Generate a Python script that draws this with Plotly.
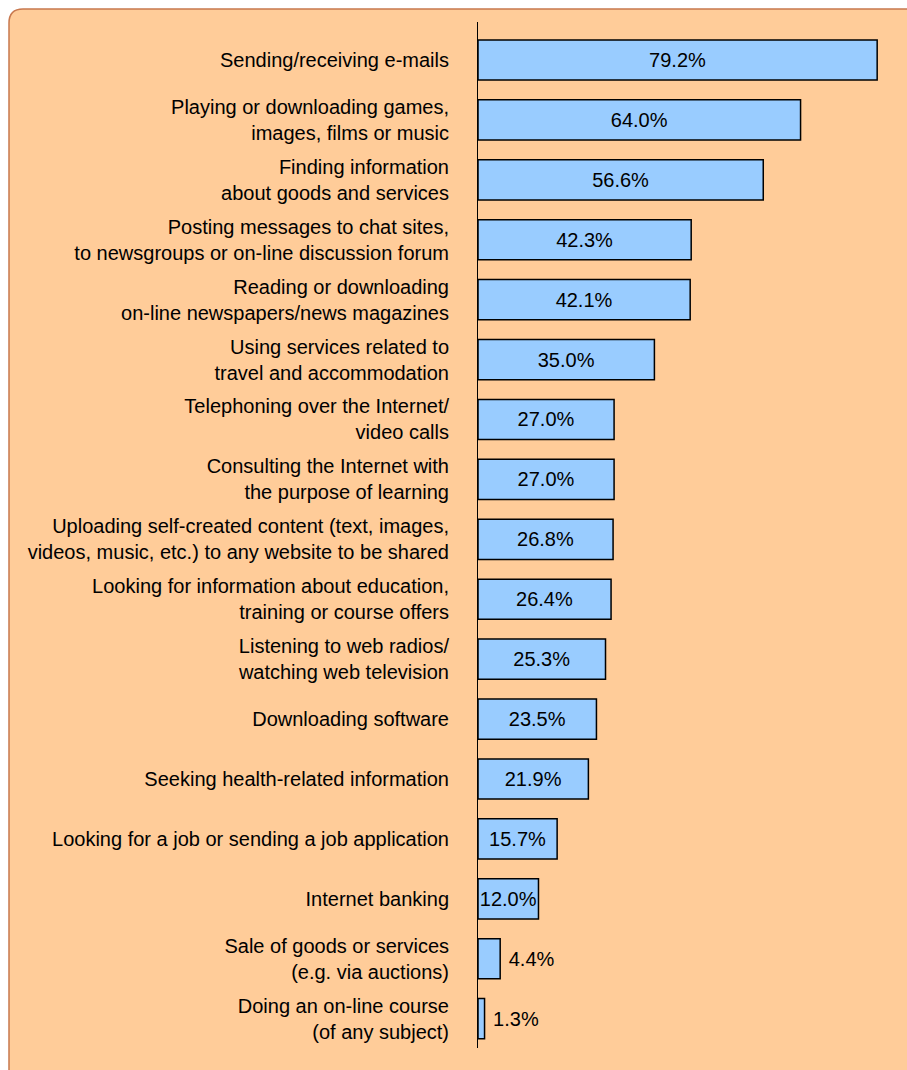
import plotly.graph_objects as go

# Internet activities, share of users (%)
activities = [
    "Sending/receiving e-mails",
    "Playing or downloading games,<br>images, films or music",
    "Finding information<br>about goods and services",
    "Posting messages to chat sites,<br>to newsgroups or on-line discussion forum",
    "Reading or downloading<br>on-line newspapers/news magazines",
    "Using services related to<br>travel and accommodation",
    "Telephoning over the Internet/<br>video calls",
    "Consulting the Internet with<br>the purpose of learning",
    "Uploading self-created content (text, images,<br>videos, music, etc.) to any website to be shared",
    "Looking for information about education,<br>training or course offers",
    "Listening to web radios/<br>watching web television",
    "Downloading software",
    "Seeking health-related information",
    "Looking for a job or sending a job application",
    "Internet banking",
    "Sale of goods or services<br>(e.g. via auctions)",
    "Doing an on-line course<br>(of any subject)",
]
shares = [79.2, 64.0, 56.6, 42.3, 42.1, 35.0, 27.0, 27.0, 26.8, 26.4,
          25.3, 23.5, 21.9, 15.7, 12.0, 4.4, 1.3]

positions = list(range(len(activities)))
text_pos = ["inside" if v >= 10 else "outside" for v in shares]
# small bars carry their label just to the right, with a little extra gap
labels = [f"{v:.1f}%" if v >= 10 else f" {v:.1f}%" for v in shares]

W, H = 907, 1070
ML, MR, MT, MB = 478, 0, 22, 22
PW, PH = W - ML - MR, H - MT - MB

FONT = "Liberation Sans, Arial, sans-serif"
FS = 20

fig = go.Figure(
    go.Bar(
        x=shares,
        y=positions,
        orientation="h",
        width=0.67,
        marker=dict(color="#99CCFF", line=dict(color="#000000", width=1.5)),
        text=labels,
        textposition=text_pos,
        insidetextanchor="middle",
        constraintext="none",
        cliponaxis=False,
        textfont=dict(family=FONT, size=FS, color="#000000"),
        hoverinfo="skip",
    )
)


def px_to_paper(x, y):
    return (x - ML) / PW, (H - MB - y) / PH


# Rounded peach panel behind the chart
left, top, right, bottom, r = 9, 9, 960, 1120, 14
x0, y0 = px_to_paper(left, bottom)
x1, y1 = px_to_paper(left, top + r)
cx, cy = px_to_paper(left, top)
x2, y2 = px_to_paper(left + r, top)
x3, y3 = px_to_paper(right, top)
x4, y4 = px_to_paper(right, bottom)
path = (f"M {x0},{y0} L {x1},{y1} Q {cx},{cy} {x2},{y2} "
        f"L {x3},{y3} L {x4},{y4} Z")

fig.update_layout(
    width=W,
    height=H,
    margin=dict(l=ML, r=MR, t=MT, b=MB),
    paper_bgcolor="#FFFFFF",
    plot_bgcolor="rgba(0,0,0,0)",
    showlegend=False,
    bargap=0.33,
    font=dict(family=FONT, size=FS, color="#000000"),
    shapes=[
        dict(type="path", xref="paper", yref="paper", path=path,
             fillcolor="#FFCC99", line=dict(color="#C8784E", width=1.5),
             layer="below"),
    ],
    xaxis=dict(range=[0, PW / 5.04], visible=False, fixedrange=True),
    yaxis=dict(
        range=[16.49, -0.634],
        tickvals=positions,
        ticktext=activities,
        showline=True,
        linecolor="#000000",
        linewidth=1,
        ticks="",
        showgrid=False,
        zeroline=False,
        ticklabelstandoff=24,
        tickfont=dict(family=FONT, size=FS, color="#000000"),
    ),
)

fig.write_html("out.html")
